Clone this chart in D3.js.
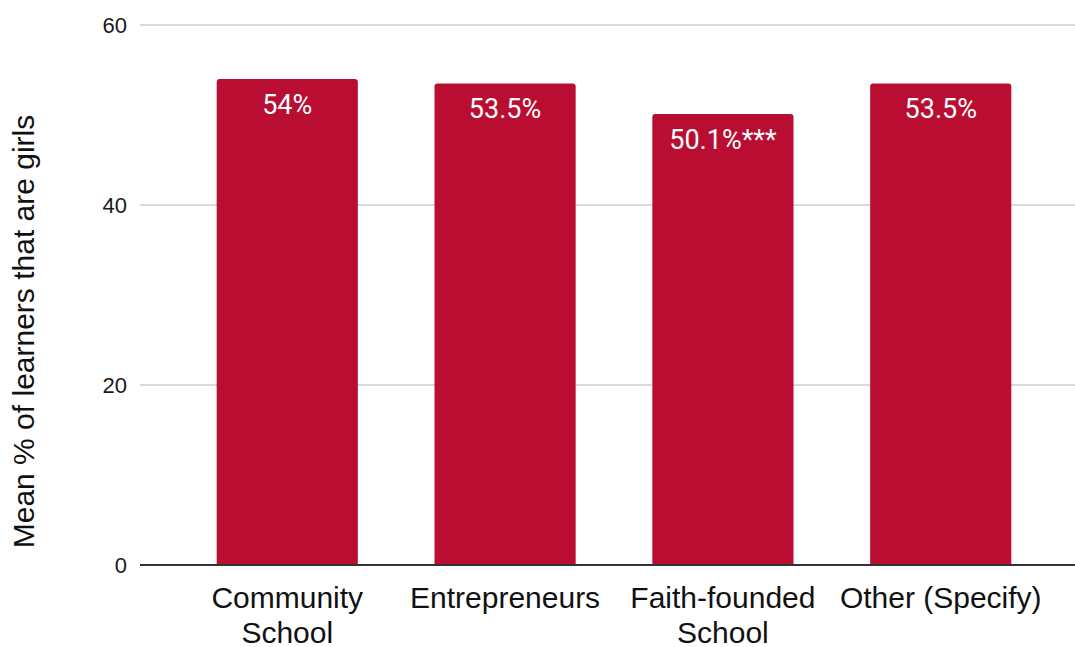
<!DOCTYPE html>
<html>
<head>
<meta charset="utf-8">
<script src="https://cdn.jsdelivr.net/npm/d3@7"></script>
<style>
  html, body { margin: 0; padding: 0; background: #fff; }
  svg { display: block; }
</style>
</head>
<body>
<svg id="chart" width="1075" height="647"></svg>
<script>
// Mean share of learners that are girls, by school founder type
const categories = [["Community", "School"], ["Entrepreneurs"], ["Faith-founded", "School"], ["Other (Specify)"]];
const values = [54, 53.5, 50.1, 53.5];
const valueLabels = ["54%", "53.5%", "50.1%***", "53.5%"];
const yTicks = [0, 20, 40, 60];
const yTitle = "Mean % of learners that are girls";

const W = 1075, H = 647;
const plot = { left: 140, right: 1075, top: 25, bottom: 565 };
const barColor = "#b90e31";

const svg = d3.select("#chart");
const keys = categories.map(c => c.join(" "));

const x = d3.scaleBand()
  .domain(keys)
  .range([plot.left, 1088])
  .paddingInner(0.352)
  .paddingOuter(0.352);

const y = d3.scaleLinear()
  .domain([0, 60])
  .range([plot.bottom, plot.top]);

// horizontal gridlines
svg.append("g")
  .selectAll("line")
  .data(yTicks.filter(t => t !== 0))
  .join("line")
  .attr("x1", plot.left)
  .attr("x2", plot.right)
  .attr("y1", d => y(d))
  .attr("y2", d => y(d))
  .attr("stroke", "#cccccc")
  .attr("stroke-width", 1.5);

// y-axis tick labels
const yAxis = d3.axisLeft(y).tickValues(yTicks).tickSize(0).tickPadding(13);
svg.append("g")
  .attr("transform", `translate(${plot.left},0)`)
  .call(yAxis)
  .call(g => g.select(".domain").remove())
  .call(g => g.selectAll("text")
    .attr("font-family", "'Liberation Sans', Arial, sans-serif")
    .attr("font-size", 22)
    .attr("fill", "#1a1a1a"));

// bars with slightly rounded top corners
const r = 3;
function barPath(x0, w, yTop, yBase) {
  return `M${x0},${yBase}V${yTop + r}Q${x0},${yTop} ${x0 + r},${yTop}` +
         `H${x0 + w - r}Q${x0 + w},${yTop} ${x0 + w},${yTop + r}V${yBase}Z`;
}
svg.append("g")
  .selectAll("path")
  .data(values)
  .join("path")
  .attr("d", (d, i) => barPath(x(keys[i]), x.bandwidth(), y(d), y(0)))
  .attr("fill", barColor);

// value labels inside bars
svg.append("g")
  .selectAll("text")
  .data(values)
  .join("text")
  .attr("x", (d, i) => x(keys[i]) + x.bandwidth() / 2)
  .attr("y", d => y(d) + 34.5)
  .attr("text-anchor", "middle")
  .attr("font-family", "Roboto, sans-serif")
  .attr("font-size", 27)
  .attr("fill", "#ffffff")
  .text((d, i) => valueLabels[i]);

// baseline axis
svg.append("line")
  .attr("x1", plot.left)
  .attr("x2", plot.right)
  .attr("y1", plot.bottom)
  .attr("y2", plot.bottom)
  .attr("stroke", "#333333")
  .attr("stroke-width", 2);

// category labels
const xl = svg.append("g")
  .selectAll("text")
  .data(categories)
  .join("text")
  .attr("x", (d, i) => x(keys[i]) + x.bandwidth() / 2)
  .attr("y", 608)
  .attr("text-anchor", "middle")
  .attr("font-family", "'Liberation Sans', Arial, sans-serif")
  .attr("font-size", 30)
  .attr("fill", "#111");
xl.selectAll("tspan")
  .data(d => d)
  .join("tspan")
  .attr("x", function () { return d3.select(this.parentNode).attr("x"); })
  .attr("dy", (d, i) => i === 0 ? 0 : 35)
  .text(d => d);

// y-axis title
svg.append("text")
  .attr("transform", `translate(34,${(115 + 548) / 2}) rotate(-90)`)
  .attr("text-anchor", "middle")
  .attr("font-family", "'Liberation Sans', Arial, sans-serif")
  .attr("font-size", 30)
  .attr("fill", "#111")
  .text(yTitle);
</script>
</body>
</html>
